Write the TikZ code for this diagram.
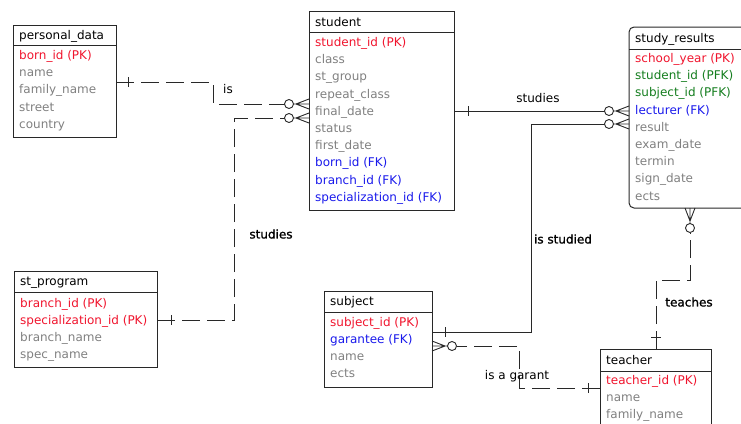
\documentclass[tikz,border=0pt]{standalone}
\usepackage{fontspec}
\setmainfont{DejaVu Sans}
\newfontfamily\heavylbl{DejaVu Sans}[FakeBold=1.2]
\usetikzlibrary{calc}
\definecolor{pkred}{RGB}{240,20,45}
\definecolor{fkblue}{RGB}{25,25,235}
\definecolor{pfkgreen}{RGB}{20,125,30}
\definecolor{attrgray}{RGB}{128,128,128}
\definecolor{linegray}{RGB}{40,40,40}
\begin{document}
\begin{tikzpicture}[x=1pt,y=-1pt,
  font=\fontsize{12}{14}\selectfont,
  entity/.style={draw=linegray, line width=1pt, anchor=north west, inner sep=0pt},
  title/.style={anchor=base west, text=black, inner sep=0pt},
  pk/.style={anchor=base west, text=pkred, inner sep=0pt},
  fk/.style={anchor=base west, text=fkblue, inner sep=0pt},
  pfk/.style={anchor=base west, text=pfkgreen, inner sep=0pt},
  attr/.style={anchor=base west, text=attrgray, inner sep=0pt},
  rel/.style={draw=linegray, line width=0.9pt},
  reldash/.style={rel, dash pattern=on 18pt off 7pt},
  lbl/.style={anchor=center, text=black, inner sep=0pt},
  heavy/.style={lbl, font=\fontsize{12}{14}\heavylbl},
  many/.pic={
    \draw[rel] (-16,0) -- (-13,0) (-13,0) -- (0,-5) (-13,0) -- (0,0) (-13,0) -- (0,5);
    \draw[rel, fill=white] (-20,0) circle[radius=4.5];
  }]
\useasboundingbox (0,0) rectangle (741,423);
\clip (0,0) rectangle (741,423);
\node[entity, minimum width=103pt, minimum height=112pt] (personal) at (13,25) {};
\draw[linegray, line width=1pt] (13,45) -- (116,45);
\node[title] (pd-t) at (19,39.5) {personal\_data};
\node[pk] (pd-a1) at (19,59.5) {born\_id (PK)};
\node[attr] (pd-a2) at (19,76.7) {name};
\node[attr] (pd-a3) at (19,93.9) {family\_name};
\node[attr] (pd-a4) at (19,111.1) {street};
\node[attr] (pd-a5) at (19,128.3) {country};
\node[entity, minimum width=145pt, minimum height=199pt] (student) at (309,11) {};
\draw[linegray, line width=1pt] (309,32) -- (454,32);
\node[title] (st-t) at (315,26.5) {student};
\node[pk] (st-a1) at (315,46.5) {student\_id (PK)};
\node[attr] (st-a2) at (315,63.7) {class};
\node[attr] (st-a3) at (315,80.9) {st\_group};
\node[attr] (st-a4) at (315,98.1) {repeat\_class};
\node[attr] (st-a5) at (315,115.3) {final\_date};
\node[attr] (st-a6) at (315,132.5) {status};
\node[attr] (st-a7) at (315,149.7) {first\_date};
\node[fk] (st-a8) at (315,166.9) {born\_id (FK)};
\node[fk] (st-a9) at (315,184.1) {branch\_id (FK)};
\node[fk] (st-a10) at (315,201.3) {specialization\_id (FK)};
\draw[linegray, line width=1pt, rounded corners=5pt] (760,27) -- (629,27) -- (629,208) -- (760,208);
\node[inner sep=0pt, anchor=north west, minimum width=131pt, minimum height=181pt] (results) at (629,27) {};
\draw[linegray, line width=1pt] (629,49) -- (760,49);
\node[title] (sr-t) at (635,42.5) {study\_results};
\node[pk] (sr-a1) at (635,62.5) {school\_year (PK)};
\node[pfk] (sr-a2) at (635,79.7) {student\_id (PFK)};
\node[pfk] (sr-a3) at (635,96.9) {subject\_id (PFK)};
\node[fk] (sr-a4) at (635,114.1) {lecturer (FK)};
\node[attr] (sr-a5) at (635,131.3) {result};
\node[attr] (sr-a6) at (635,148.5) {exam\_date};
\node[attr] (sr-a7) at (635,165.7) {termin};
\node[attr] (sr-a8) at (635,182.9) {sign\_date};
\node[attr] (sr-a9) at (635,200.1) {ects};
\node[entity, minimum width=143pt, minimum height=96pt] (program) at (14,271) {};
\draw[linegray, line width=1pt] (14,292) -- (157,292);
\node[title] (sp-t) at (20,285.5) {st\_program};
\node[pk] (sp-a1) at (20,307.5) {branch\_id (PK)};
\node[pk] (sp-a2) at (20,324.5) {specialization\_id (PK)};
\node[attr] (sp-a3) at (20,341.5) {branch\_name};
\node[attr] (sp-a4) at (20,358.5) {spec\_name};
\node[entity, minimum width=108pt, minimum height=96pt] (subject) at (324,291) {};
\draw[linegray, line width=1pt] (324,312) -- (432,312);
\node[title] (sj-t) at (330,305.5) {subject};
\node[pk] (sj-a1) at (330,326.5) {subject\_id (PK)};
\node[fk] (sj-a2) at (330,343.5) {garantee (FK)};
\node[attr] (sj-a3) at (330,360.5) {name};
\node[attr] (sj-a4) at (330,377.5) {ects};
\node[entity, minimum width=111pt, minimum height=90pt] (teacher) at (600,349) {};
\draw[linegray, line width=1pt] (600,371) -- (711,371);
\node[title] (tc-t) at (606,364.5) {teacher};
\node[pk] (tc-a1) at (606,384.5) {teacher\_id (PK)};
\node[attr] (tc-a2) at (606,401.5) {name};
\node[attr] (tc-a3) at (606,418.5) {family\_name};
\coordinate (pd-is) at (116,82);
\coordinate (st-is) at (309,104);
\coordinate (sp-st) at (157,320);
\coordinate (st-sp) at (309,118);
\coordinate (st-sr) at (454,111);
\coordinate (sr-st) at (629,111);
\coordinate (sj-sr) at (432,332);
\coordinate (sr-sj) at (629,124);
\coordinate (tc-sr) at (656,349);
\coordinate (sr-tc) at (690,208);
\coordinate (tc-sj) at (600,388);
\coordinate (sj-tc) at (432,346);
\draw[reldash] (pd-is) -- (213,82) -- (213,104) -- ($(st-is)+(-24.5,0)$);
\draw[rel] ($(pd-is)+(12,-5)$) -- ++(0,10);
\pic at (st-is) {many};
\draw[reldash] (sp-st) -- (234,320) -- (234,118) -- ($(st-sp)+(-24.5,0)$);
\draw[rel] ($(sp-st)+(14,-5)$) -- ++(0,10);
\pic at (st-sp) {many};
\draw[rel] (st-sr) -- ($(sr-st)+(-24.5,0)$);
\draw[rel] ($(st-sr)+(14,-5)$) -- ++(0,10);
\pic at (sr-st) {many};
\draw[rel] (sj-sr) -- (531,332) -- (531,124) -- ($(sr-sj)+(-24.5,0)$);
\draw[rel] ($(sj-sr)+(13,-5)$) -- ++(0,10);
\pic at (sr-sj) {many};
\draw[reldash] (tc-sr) -- (656,280) -- (690,280) -- ($(sr-tc)+(0,24.5)$);
\draw[rel] ($(tc-sr)+(-5,-12)$) -- ++(10,0);
\pic[rotate=90] at (sr-tc) {many};
\draw[reldash] (tc-sj) -- (519,388) -- (519,346) -- ($(sj-tc)+(24.5,0)$);
\draw[rel] ($(tc-sj)+(-12,-5)$) -- ++(0,10);
\pic[rotate=180] at (sj-tc) {many};
\node[lbl] (l-is) at (228,89) {is};
\node[heavy] (l-studies1) at (271,234) {studies};
\node[lbl] (l-studies2) at (538,98) {studies};
\node[heavy] (l-isstudied) at (563,239) {is studied};
\node[heavy] (l-teaches) at (689,302) {teaches};
\node[lbl] (l-garant) at (517,376) {is a garant};
\end{tikzpicture}
\end{document}
